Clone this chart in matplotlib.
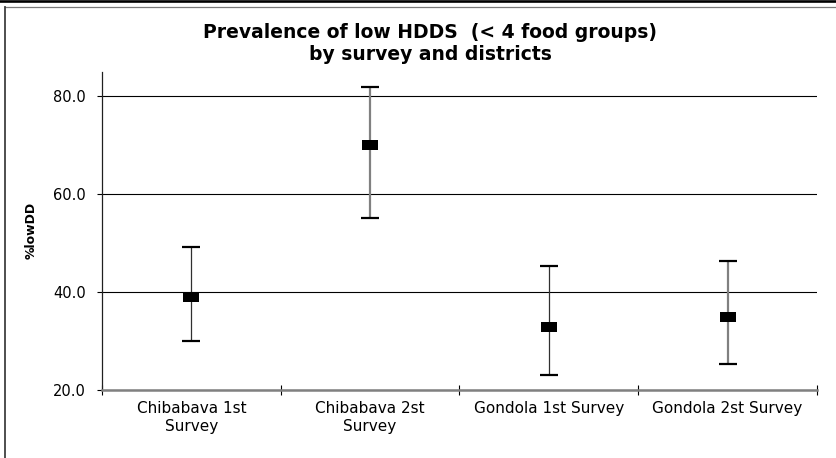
import numpy as np
import matplotlib
matplotlib.use("Agg")
import matplotlib.pyplot as plt
from matplotlib.lines import Line2D
from matplotlib.ticker import FixedLocator

# prevalence of low household dietary diversity, with confidence limits
categories = ["Chibabava 1st\nSurvey", "Chibabava 2st\nSurvey",
              "Gondola 1st Survey", "Gondola 2st Survey"]
pct_low = [38.9, 70.0, 32.9, 34.9]
ci_low = [30.1, 55.1, 23.1, 25.3]
ci_high = [49.2, 81.9, 45.3, 46.3]
y_ticks = [20.0, 40.0, 60.0, 80.0]

plt.rcParams['font.family'] = ['DejaVu Sans']

fig = plt.figure(figsize=(8.37, 4.58), dpi=100)
W, H = 837.0, 458.0

# chart frame: heavy rule on top, thin border below it and down the left side
fig.add_artist(Line2D([0, 1], [1 - 1.2 / H, 1 - 1.2 / H], color='black', lw=1.9,
                      transform=fig.transFigure))
fig.add_artist(Line2D([5 / W, 1], [1 - 7 / H, 1 - 7 / H], color='#7a7a7a', lw=0.9,
                      transform=fig.transFigure))
fig.add_artist(Line2D([5 / W, 5 / W], [1 - 7 / H, 0], color='#404040', lw=1.3,
                      transform=fig.transFigure))

ax = fig.add_axes([102 / W, 1 - 390 / H, 715 / W, (390 - 71.7) / H])

x = np.arange(len(categories))
means = np.array(pct_low)
err = np.vstack([means - np.array(ci_low), np.array(ci_high) - means])

line, caps, bars = ax.errorbar(x, means, yerr=err, fmt='none', ecolor='black',
                               elinewidth=1, capsize=6.6, capthick=1.6, zorder=3)
bars[0].set_color(['#303030', '#808080', '#303030', '#808080'])
bars[0].set_linewidth([0.9, 1.6, 0.9, 1.6])
for c in caps:
    c.set_color('black')

rect = [(-1.55, -1), (1.55, -1), (1.55, 1), (-1.55, 1), (-1.55, -1)]
ax.plot(x, means, linestyle='none', marker=rect, markersize=12, color='black',
        markeredgewidth=0, zorder=4)

ax.set_xlim(-0.5, len(categories) - 0.5)
ax.set_ylim(20, 85)
ax.set_yticks(y_ticks)
ax.set_yticklabels([f"{v:.1f}" for v in y_ticks])
ax.set_xticks(x)
ax.set_xticklabels(categories, fontsize=11, linespacing=1.2)
ax.xaxis.set_minor_locator(FixedLocator(np.arange(len(categories) + 1) - 0.5))

ax.tick_params(axis='x', which='major', length=0, pad=8)
ax.tick_params(axis='x', which='minor', direction='inout', length=7, width=0.8,
               color='black')
ax.tick_params(axis='y', direction='out', length=3.8, width=0.8, color='black',
               labelsize=10.5, pad=8)

ax.grid(axis='y', color='black', linewidth=0.8)
ax.set_axisbelow(True)

for side in ('top', 'right'):
    ax.spines[side].set_visible(False)
ax.spines['left'].set_color('#202020')
ax.spines['left'].set_linewidth(0.9)
ax.spines['bottom'].set_color('#808080')
ax.spines['bottom'].set_linewidth(1.8)

ax.set_ylabel("%lowDD", fontsize=9, fontweight='bold', labelpad=11)

fig.text(430 / W, 1 - 32 / H, "Prevalence of low HDDS  (< 4 food groups)",
         ha='center', va='center', fontsize=13.5, fontweight='bold')
fig.text(430 / W, 1 - 54 / H, "by survey and districts",
         ha='center', va='center', fontsize=13.5, fontweight='bold')

fig.savefig("out.png", dpi=100)
